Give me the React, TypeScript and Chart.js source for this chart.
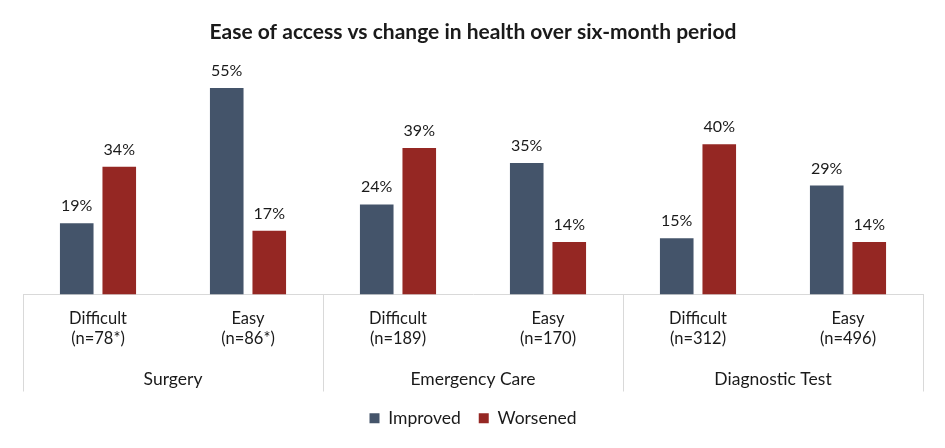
import React, { useEffect, useRef } from "react";
import { Chart, registerables } from "chart.js";

Chart.register(...registerables);

const chartTitle = "Ease of access vs change in health over six-month period";
const groups = ["Surgery", "Emergency Care", "Diagnostic Test"];
const categories = [
  ["Difficult", "(n=78*)"],
  ["Easy", "(n=86*)"],
  ["Difficult", "(n=189)"],
  ["Easy", "(n=170)"],
  ["Difficult", "(n=312)"],
  ["Easy", "(n=496)"],
];
const seriesNames = ["Improved", "Worsened"];
const improved = [19, 55, 24, 35, 15, 29];
const worsened = [34, 17, 39, 14, 40, 14];
const yMax = 60;

const FONT = "Lato, 'Open Sans', sans-serif";
const TEXT = "#1a1a1a";
const LINE = "#d9d9d9";

const overlayPlugin = {
  id: "overlay",
  afterDraw(chart: any) {
    const ctx = chart.ctx;
    const xs = chart.scales.x;
    const area = chart.chartArea;
    ctx.save();
    // data labels
    ctx.font = `16px ${FONT}`;
    ctx.fillStyle = TEXT;
    ctx.textAlign = "center";
    ctx.textBaseline = "alphabetic";
    chart.data.datasets.forEach((ds: any, di: number) => {
      const meta = chart.getDatasetMeta(di);
      meta.data.forEach((el: any, i: number) => {
        ctx.fillText(`${ds.data[i]}%`, el.x, el.y - 12);
      });
    });
    // group separators and labels
    const per = categories.length / groups.length;
    const step = (xs.right - xs.left) / categories.length;
    ctx.strokeStyle = LINE;
    ctx.lineWidth = 1;
    for (let g = 0; g <= groups.length; g++) {
      const x = Math.round(xs.left + g * per * step) + 0.5;
      ctx.beginPath();
      ctx.moveTo(x, area.bottom);
      ctx.lineTo(x, area.bottom + 97);
      ctx.stroke();
    }
    ctx.font = `17.5px ${FONT}`;
    ctx.textBaseline = "middle";
    groups.forEach((g, gi) => {
      const cx = xs.left + (gi + 0.5) * per * step;
      ctx.fillText(g, cx, area.bottom + 85);
    });
    ctx.restore();
  },
};

export default function App() {
  const ref = useRef<HTMLCanvasElement>(null);
  useEffect(() => {
    document.body.style.margin = "0";
    const chart = new Chart(ref.current!, {
      type: "bar",
      data: {
        labels: categories,
        datasets: [
          {
            label: seriesNames[0],
            data: improved,
            backgroundColor: "#44546a",
            categoryPercentage: 0.567,
            barPercentage: 0.79,
          },
          {
            label: seriesNames[1],
            data: worsened,
            backgroundColor: "#952723",
            categoryPercentage: 0.567,
            barPercentage: 0.79,
          },
        ],
      },
      options: {
        responsive: false,
        animation: false,
        layout: { padding: { left: 23, right: 22, top: 0, bottom: 11 } },
        plugins: {
          title: {
            display: true,
            text: chartTitle,
            color: TEXT,
            font: { family: FONT, size: 21, weight: "bold" },
            padding: { top: 20, bottom: 24 },
          },
          legend: {
            position: "bottom",
            labels: {
              color: TEXT,
              font: { family: FONT, size: 17.5 },
              boxWidth: 10,
              boxHeight: 10,
              padding: 18,
            },
          },
          tooltip: { enabled: false },
        },
        scales: {
          x: {
            grid: { display: false, drawTicks: false },
            border: { display: true, color: LINE },
            ticks: {
              color: TEXT,
              font: { family: FONT, size: 16.5, lineHeight: 1.22 },
              padding: 14,
              maxRotation: 0,
              autoSkip: false,
            },
            afterFit(scale: any) {
              scale.height = 97;
            },
          },
          y: {
            display: false,
            min: 0,
            max: yMax,
          },
        },
      },
      plugins: [overlayPlugin],
    });
    return () => chart.destroy();
  }, []);
  return (
    <div style={{ width: 945, height: 448 }}>
      <canvas ref={ref} width={945} height={448} />
    </div>
  );
}
